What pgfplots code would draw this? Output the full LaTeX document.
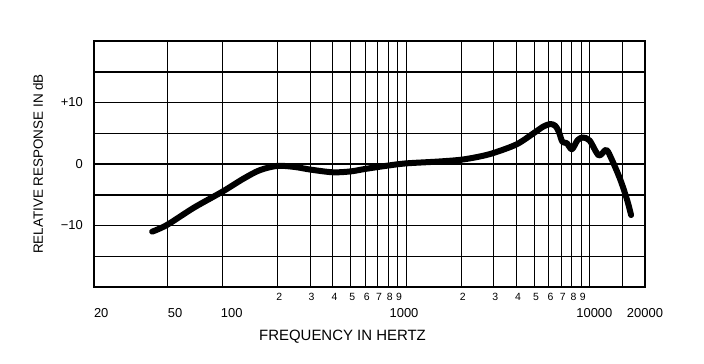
\documentclass[border=0pt]{standalone}
\usepackage{fontspec}
\setmainfont{Liberation Sans}
\usepackage{pgfplots}
\pgfplotsset{compat=1.18}
\pgfplotstableread{
f db
41.5 -11.0
50 -9.9
70 -7.1
100 -4.5
130 -2.4
160 -1.0
200 -0.3
250 -0.5
300 -0.9
400 -1.35
500 -1.2
600 -0.8
800 -0.25
1000 0.1
1500 0.4
2000 0.7
2500 1.2
3000 1.8
4000 3.2
5000 5.1
5600 6.1
6100 6.5
6500 6.2
6800 5.2
7100 3.6
7500 3.4
8000 2.4
8600 3.9
9200 4.3
10000 3.8
11200 1.4
12300 2.3
13200 0.7
14700 -2.6
16000 -5.9
16800 -8.3
}\resp
\begin{document}
\begin{tikzpicture}
\path[use as bounding box] (0,0) rectangle (704bp,364bp);
\begin{axis}[
 at={(94bp,77bp)}, anchor=south west,
 scale only axis, width=551bp, height=246bp,
 xmode=log, xmin=20, xmax=20000, ymin=-20, ymax=20,
 axis line style={line width=1.5bp},
 xtick={21.9,55.3,112.4,975,10600,20000},
 xticklabels={20,50,100,1000,10000,20000},
 ytick={-15,-10,-5,0,5,10,15},
 yticklabels={,−10,,0,,+10,},
 major tick length=0pt,
 xmajorgrids=false, ymajorgrids=true,
 x grid style={black, line width=1bp},
 y grid style={black, line width=1.5bp},
 xticklabel style={font=\fontsize{13}{14}\selectfont, anchor=base, inner sep=0pt, yshift=-30.5bp},
 yticklabel style={font=\fontsize{13}{14}\selectfont, anchor=east, inner sep=0pt, xshift=-11bp},
 extra x ticks={50,100,200,300,400,500,600,700,800,900,1000,2000,3000,4000,5000,6000,7000,8000,9000,10000,15000},
 extra x tick labels={{},{},2,3,4,5,6,7,8,9,{},2,3,4,5,6,7,8,9,{},{}},
 extra x tick style={xmajorgrids=true, xticklabel style={font=\fontsize{10.5}{11}\selectfont, yshift=17bp, xshift=1.5bp}},
 xlabel={FREQUENCY IN HERTZ},
 ylabel={RELATIVE RESPONSE IN dB},
 xlabel style={at={(axis description cs:0.451,-0.203)}, anchor=center, font=\fontsize{15}{16}\selectfont},
 ylabel style={at={(axis description cs:-0.1016,0.5)}, anchor=center, rotate=0, font=\fontsize{13.5}{15}\selectfont},
 clip=false,
]
\addplot[black, line width=6bp, smooth, tension=0.5, line cap=round, line join=round] table[x=f, y=db] {\resp};
\end{axis}
\end{tikzpicture}
\end{document}
